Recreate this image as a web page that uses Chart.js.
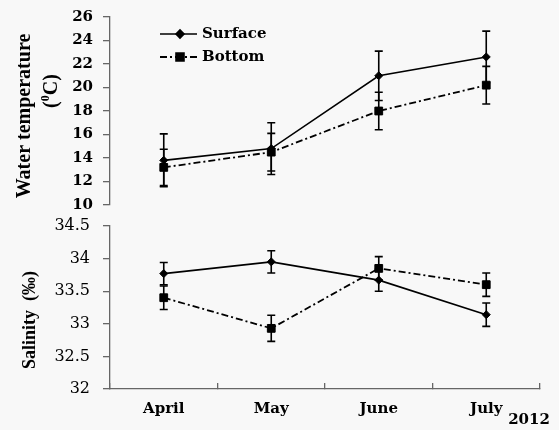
<!DOCTYPE html>
<html>
<head>
<meta charset="utf-8">
<script src="https://cdn.jsdelivr.net/npm/chart.js@4.4.0/dist/chart.umd.min.js"></script>
<style>
  body { margin: 0; background: #f8f8f8; }
  #wrap { position: relative; width: 559px; height: 430px; }
  .panel { position: absolute; left: 0; width: 559px; height: 215px; }
</style>
</head>
<body>
<div id="wrap">
  <div class="panel" style="top:0"><canvas id="tempChart"></canvas></div>
  <div class="panel" style="top:215px"><canvas id="salChart"></canvas></div>
</div>
<script>
// data
const months = ['April', 'May', 'June', 'July'];
const tempSurface = [13.8, 14.8, 21.0, 22.6];
const tempSurfaceErr = [2.25, 2.2, 2.1, 2.2];
const tempBottom = [13.2, 14.5, 18.0, 20.2];
const tempBottomErr = [1.55, 1.6, 1.6, 1.6];
const salSurface = [33.77, 33.95, 33.67, 33.14];
const salSurfaceErr = [0.17, 0.17, 0.17, 0.18];
const salBottom = [33.40, 32.93, 33.85, 33.60];
const salBottomErr = [0.18, 0.2, 0.18, 0.18];
const yearLabel = '2012';

const axisColor = '#666';
const boldFont = { family: 'DejaVu Serif', size: 15, weight: 'bold' };
const plainFont = { family: 'DejaVu Serif', size: 16 };

// vertical error bars with caps, drawn under the markers
const errorBars = {
    id: 'errorBars',
    beforeDatasetsDraw(chart) {
        const ctx = chart.ctx;
        const yScale = chart.scales.y;
        chart.data.datasets.forEach((ds, i) => {
            const meta = chart.getDatasetMeta(i);
            ds.data.forEach((v, j) => {
                const x = meta.data[j].x;
                const top = yScale.getPixelForValue(v + ds.errors[j]);
                const bot = yScale.getPixelForValue(v - ds.errors[j]);
                ctx.save();
                ctx.strokeStyle = '#000';
                ctx.lineWidth = 1.6;
                ctx.beginPath();
                ctx.moveTo(x, top); ctx.lineTo(x, bot);
                ctx.moveTo(x - 4, top); ctx.lineTo(x + 4, top);
                ctx.moveTo(x - 4, bot); ctx.lineTo(x + 4, bot);
                ctx.stroke();
                ctx.restore();
            });
        });
    }
};

// legend with line sample + marker
const lineLegend = {
    id: 'lineLegend',
    afterDraw(chart, args, opts) {
        if (!opts.show) return;
        const ctx = chart.ctx;
        chart.data.datasets.forEach((ds, i) => {
            const y = opts.y + i * opts.gap;
            ctx.save();
            ctx.strokeStyle = '#000';
            ctx.fillStyle = '#000';
            ctx.lineWidth = ds.borderWidth;
            ctx.setLineDash(ds.borderDash || []);
            ctx.beginPath();
            ctx.moveTo(opts.x, y);
            ctx.lineTo(opts.x + 37, y);
            ctx.stroke();
            ctx.setLineDash([]);
            Chart.helpers.drawPoint(ctx, { pointStyle: ds.pointStyle, radius: ds.pointRadius, borderWidth: 1 }, opts.x + 20, y);
            ctx.font = 'bold 15px "DejaVu Serif"';
            ctx.textBaseline = 'middle';
            ctx.fillText(ds.label, opts.x + 42, y);
            ctx.restore();
        });
    }
};

// rotated y-axis titles; parts marked sup are drawn small and raised
const axisTitles = {
    id: 'axisTitles',
    afterDraw(chart, args, opts) {
        const ctx = chart.ctx;
        (opts.lines || []).forEach(line => {
            const big = `bold ${line.size}px "Liberation Serif"`;
            const small = `bold ${Math.round(line.size * 0.6)}px "Liberation Serif"`;
            ctx.save();
            ctx.translate(line.x, line.y);
            ctx.rotate(-Math.PI / 2);
            ctx.fillStyle = '#000';
            ctx.textBaseline = 'middle';
            let total = 0;
            line.parts.forEach(p => { ctx.font = p.sup ? small : big; total += ctx.measureText(p.text).width; });
            let pos = -total / 2;
            line.parts.forEach(p => {
                ctx.font = p.sup ? small : big;
                ctx.fillText(p.text, pos, p.sup ? -line.size * 0.3 : 0);
                pos += ctx.measureText(p.text).width;
            });
            ctx.restore();
        });
    }
};

// "2012" next to the last month
const yearText = {
    id: 'yearText',
    afterDraw(chart, args, opts) {
        if (!opts.text) return;
        const ctx = chart.ctx;
        ctx.save();
        ctx.fillStyle = '#000';
        ctx.font = 'bold 15px "DejaVu Serif"';
        ctx.textAlign = 'center';
        ctx.textBaseline = 'middle';
        ctx.fillText(opts.text, chart.chartArea.right - 11, chart.chartArea.bottom + 31);
        ctx.restore();
    }
};

function makeDatasets(surface, surfaceErr, bottom, bottomErr) {
    return [
        {
            label: 'Surface',
            data: surface,
            errors: surfaceErr,
            borderColor: '#000',
            backgroundColor: '#000',
            borderWidth: 1.6,
            pointStyle: 'rectRot',
            pointRadius: 4,
            pointBorderWidth: 1
        },
        {
            label: 'Bottom',
            data: bottom,
            errors: bottomErr,
            borderColor: '#000',
            backgroundColor: '#000',
            borderWidth: 1.8,
            borderDash: [7, 3, 2, 3],
            pointStyle: 'rect',
            pointRadius: 5.5,
            pointBorderWidth: 1
        }
    ];
}

function makeOptions(cfg) {
    return {
        responsive: true,
        maintainAspectRatio: false,
        animation: false,
        layout: { padding: { top: cfg.padTop, bottom: cfg.padBottom, left: 0, right: 19 } },
        plugins: {
            legend: { display: false },
            tooltip: { enabled: false },
            lineLegend: cfg.legend,
            axisTitles: { lines: cfg.titles },
            yearText: { text: cfg.year }
        },
        scales: {
            x: {
                display: cfg.showX,
                offset: true,
                afterFit: s => { if (cfg.showX) s.height = 41; },
                grid: { offset: true, drawOnChartArea: false, drawTicks: true, tickLength: -6, color: axisColor, lineWidth: 1.3 },
                border: { display: true, color: axisColor, width: 1.3 },
                ticks: { color: '#000', font: boldFont, padding: 17 }
            },
            y: {
                min: cfg.min,
                max: cfg.max,
                // fixed axis width; vertical room comes from layout padding only
                afterFit: s => { s.width = 110; s.paddingTop = 0; s.paddingBottom = 0; },
                grid: { drawOnChartArea: false, drawTicks: true, tickLength: 7, color: axisColor, lineWidth: 1.3 },
                border: { display: true, color: axisColor, width: 1.3 },
                ticks: {
                    stepSize: cfg.step,
                    autoSkip: false,
                    color: '#000',
                    font: cfg.yFont,
                    padding: cfg.yPad,
                    callback: v => String(v)
                }
            }
        }
    };
}

new Chart(document.getElementById('tempChart'), {
    type: 'line',
    data: { labels: months, datasets: makeDatasets(tempSurface, tempSurfaceErr, tempBottom, tempBottomErr) },
    options: makeOptions({
        min: 10, max: 26, step: 2,
        yFont: boldFont, yPad: 10,
        titles: [
            { x: 25, y: 116, size: 20, parts: [{ text: 'Water temperature' }] },
            { x: 52, y: 91, size: 20, parts: [{ text: '(' }, { text: '0', sup: true }, { text: 'C)' }] }
        ],
        padTop: 17, padBottom: 10,
        showX: false,
        legend: { show: true, x: 160, y: 34, gap: 23 },
        year: null
    }),
    plugins: [errorBars, lineLegend, axisTitles, yearText]
});

new Chart(document.getElementById('salChart'), {
    type: 'line',
    data: { labels: months, datasets: makeDatasets(salSurface, salSurfaceErr, salBottom, salBottomErr) },
    options: makeOptions({
        min: 32, max: 34.5, step: 0.5,
        yFont: plainFont, yPad: 13,
        titles: [
            { x: 30, y: 105, size: 18, parts: [{ text: 'Salinity  (\u2030)' }] }
        ],
        padTop: 11, padBottom: 0,
        showX: true,
        legend: { show: false },
        year: yearLabel
    }),
    plugins: [errorBars, lineLegend, axisTitles, yearText]
});
</script>
</body>
</html>
